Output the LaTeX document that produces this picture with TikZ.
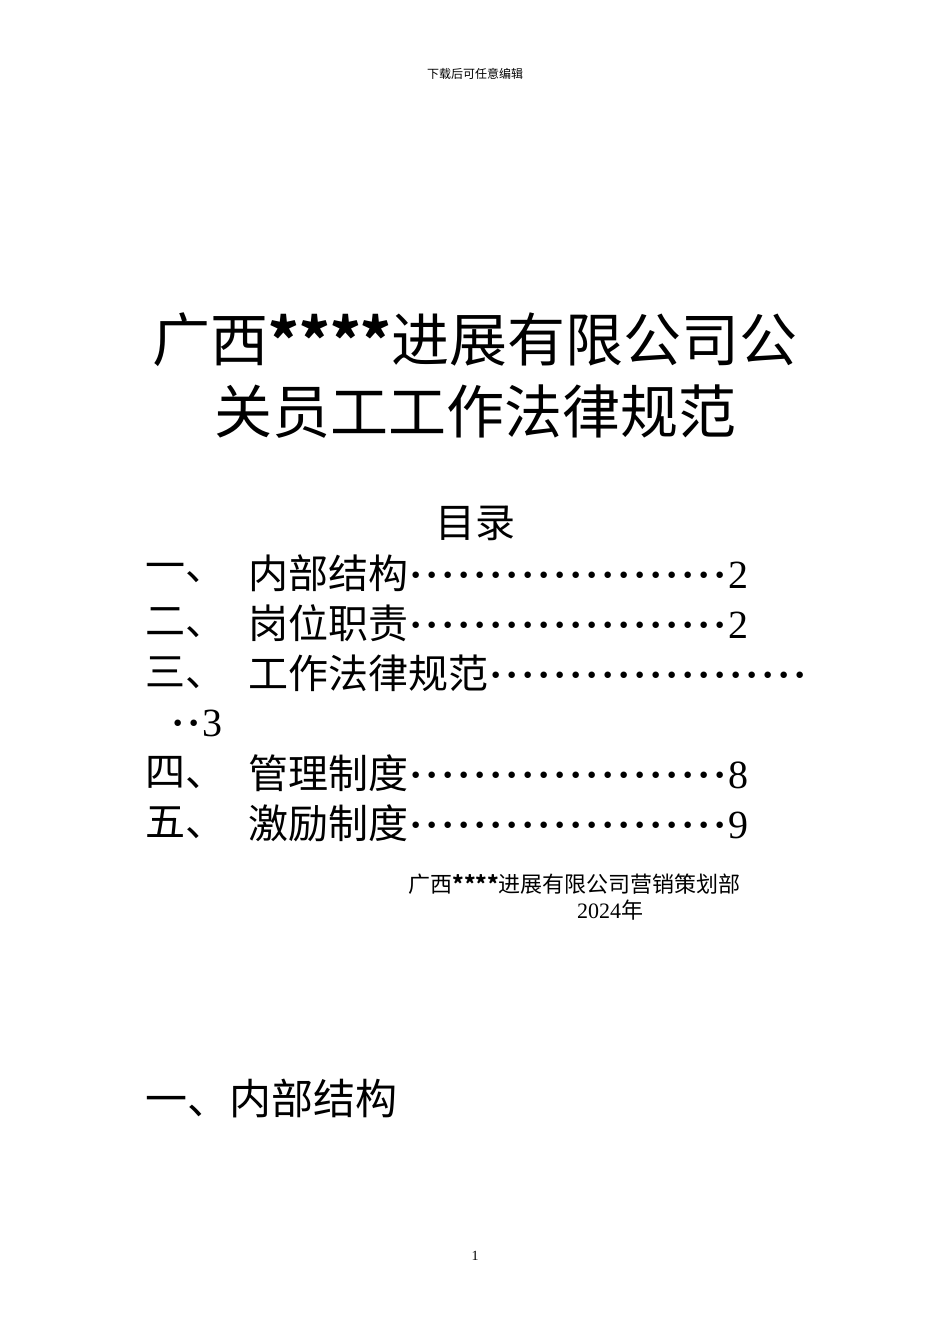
\documentclass[tikz,border=0pt]{standalone}
\usepackage{fontspec}
\setmainfont{Liberation Serif}
\newfontfamily\cjk{Noto Sans CJK SC}
\newcommand{\dotsrow}[1]{{\rmfamily\bfseries\foreach \i in {1,...,#1}{\makebox[8pt]{·}}}}
\begin{document}
\begin{tikzpicture}[x={0.5pt},y={-0.5pt},
  t/.style={inner sep=0pt,anchor=west},
  toc/.style={t,font=\cjk\fontsize{20pt}{20pt}\selectfont}]
\useasboundingbox (0,0) rectangle (950,1344);
\node[inner sep=0pt,font=\cjk\fontsize{6pt}{6pt}\selectfont] (hdr) at (475,74) {下载后可任意编辑};
\node[inner sep=0pt,font=\cjk\fontsize{29pt}{29pt}\selectfont] (title1) at (475,340) {广西\textbf{****}进展有限公司公};
\node[inner sep=0pt,font=\cjk\fontsize{29pt}{29pt}\selectfont] (title2) at (475,412) {关员工工作法律规范};
\node[inner sep=0pt,font=\cjk\fontsize{20pt}{20pt}\selectfont] (mulu) at (475,523) {目录};
\node[toc] (n1) at (145,573) {一、};
\node[toc] (i1) at (248,573) {内部结构\dotsrow{20}{\rmfamily 2}};
\node[toc] (n2) at (145,623) {二、};
\node[toc] (i2) at (248,623) {岗位职责\dotsrow{20}{\rmfamily 2}};
\node[toc] (n3) at (145,673) {三、};
\node[toc] (i3) at (248,673) {工作法律规范\dotsrow{20}};
\node[toc] (i3b) at (170,723) {\dotsrow{2}{\rmfamily 3}};
\node[toc] (n4) at (145,773) {四、};
\node[toc] (i4) at (248,773) {管理制度\dotsrow{20}{\rmfamily 8}};
\node[toc] (n5) at (145,823) {五、};
\node[toc] (i5) at (248,823) {激励制度\dotsrow{20}{\rmfamily 9}};
\node[t,font=\cjk\fontsize{11pt}{11pt}\selectfont] (dept) at (408,884) {广西\textbf{****}进展有限公司营销策划部};
\node[inner sep=0pt,font=\cjk\fontsize{11pt}{11pt}\selectfont] (year) at (610,910) {\rmfamily 2024{\cjk 年}};
\node[t,font=\cjk\fontsize{21pt}{21pt}\selectfont] (sec) at (145,1098) {一、内部结构};
\node[inner sep=0pt,font=\fontsize{7pt}{7pt}\selectfont] (pg) at (475,1256) {1};
\end{tikzpicture}
\end{document}
